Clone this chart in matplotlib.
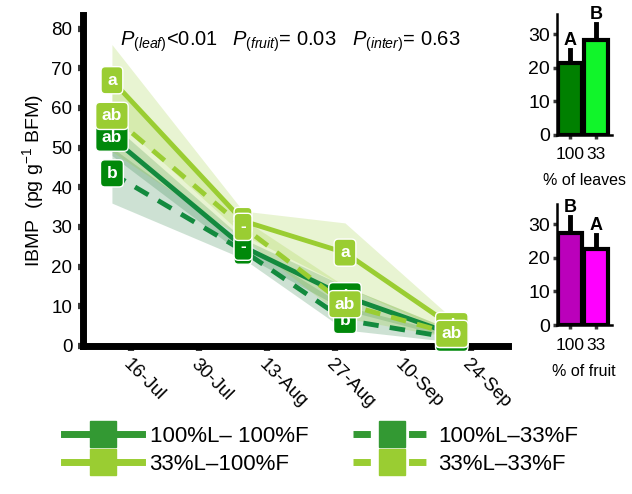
import datetime as dt
import matplotlib
matplotlib.use("Agg")
import matplotlib.pyplot as plt
import matplotlib.dates as mdates
from matplotlib.lines import Line2D

plt.rcParams['font.family'] = ['Liberation Sans', 'DejaVu Sans']
plt.rcParams['mathtext.fontset'] = 'custom'
plt.rcParams['mathtext.rm'] = 'Liberation Sans'
plt.rcParams['mathtext.it'] = 'Liberation Sans:italic'

# sampling dates and tick dates
dates = [dt.date(2019, 7, 12), dt.date(2019, 8, 8), dt.date(2019, 8, 29), dt.date(2019, 9, 20)]
tick_dates = [dt.date(2019, 7, 16), dt.date(2019, 7, 30), dt.date(2019, 8, 13),
              dt.date(2019, 8, 27), dt.date(2019, 9, 10), dt.date(2019, 9, 24)]
tick_labels = ['16-Jul', '30-Jul', '13-Aug', '27-Aug', '10-Sep', '24-Sep']

# IBMP means and band limits per treatment
l100_f100 = [52.5, 25, 12.5, 3]
l100_f100_hi = [56, 27, 15, 4]
l100_f100_lo = [48, 23, 9, 2]
l100_f33 = [43.5, 24, 6.5, 2]
l100_f33_hi = [50, 26, 10, 3]
l100_f33_lo = [36, 22, 4, 1]
l33_f100 = [67, 31.5, 23.5, 5]
l33_f100_hi = [76, 34, 31, 7]
l33_f100_lo = [58, 28, 15, 3]
l33_f33 = [58, 30, 10.5, 3]
l33_f33_hi = [66, 32, 15, 4]
l33_f33_lo = [49, 27, 7, 2]

# significance letters
let_100_100 = ['ab', '-', 'ab', 'ab']
let_100_33 = ['b', '-', 'b', 'ab']
let_33_100 = ['a', '-', 'a', 'ab']
let_33_33 = ['ab', '-', 'ab', 'ab']

# p values
p_names = ['leaf', 'fruit', 'inter']
p_texts = ['<0.01', '= 0.03', '= 0.63']

# inset bars
leaf_groups = ['100', '33']
leaf_vals = [21.5, 28.2]
leaf_err = [3.8, 4.7]
leaf_letters = ['A', 'B']
fruit_groups = ['100', '33']
fruit_vals = [27.3, 22.5]
fruit_err = [4.7, 4.2]
fruit_letters = ['B', 'A']

dark = '#138a3e'
dark_box = '#00880a'
dark_leg = '#339933'
light = '#9acd32'

fig = plt.figure(figsize=(6.32, 4.94), dpi=100)
ax = fig.add_axes([0.131, 0.300, 0.673, 0.670])

x = mdates.date2num(dates)

series = [
    (l100_f33, l100_f33_lo, l100_f33_hi, dark, dark_box, '--', let_100_33, '#1e7a3a'),
    (l100_f100, l100_f100_lo, l100_f100_hi, dark, dark_box, '-', let_100_100, '#1e7a3a'),
    (l33_f100, l33_f100_lo, l33_f100_hi, light, light, '-', let_33_100, light),
    (l33_f33, l33_f33_lo, l33_f33_hi, light, light, '--', let_33_33, light),
]

for vals, lo, hi, col, bcol, ls, lets, bandcol in series:
    ax.fill_between(x, lo, hi, color=bandcol, alpha=0.22, lw=0, zorder=1)

for vals, lo, hi, col, bcol, ls, lets, bandcol in series:
    line, = ax.plot(x, vals, color=col, lw=3.5, ls=ls, zorder=2)
    if ls == '--':
        line.set_dashes((3.2, 2.3))

for vals, lo, hi, col, bcol, ls, lets, bandcol in series:
    for xi, v, t in zip(x, vals, lets):
        ax.text(xi, v, t, ha='center', va='center', color='white', fontsize=12.5,
                fontweight='bold', zorder=3, clip_on=False,
                bbox=dict(boxstyle='round,pad=0.35,rounding_size=0.25',
                          fc=bcol, ec='white', lw=1))

ax.set_xlim(mdates.date2num(dt.date(2019, 7, 6)), mdates.date2num(dt.date(2019, 10, 1)) + 0.6)
ax.set_ylim(0, 83.5)
ax.set_yticks(range(0, 81, 10))
ax.set_xticks(mdates.date2num(tick_dates))
ax.set_xticklabels(tick_labels, rotation=-45, ha='left', va='top', rotation_mode='anchor')
for s in ['top', 'right']:
    ax.spines[s].set_visible(False)
for s in ['left', 'bottom']:
    ax.spines[s].set_linewidth(5)
ax.tick_params(direction='out', length=3.5, width=4.5, color='#3a3a3a',
               labelsize=13.5, pad=4)
ax.tick_params(axis='x', pad=4)
ax.set_ylabel('IBMP  (pg g$^{-1}$ BFM)', fontsize=14, labelpad=4)

for px, name, txt in zip([120, 232, 352], p_names, p_texts):
    fig.text(px / 632, 1 - 42 / 494, '$P_{(' + name + ')}$' + txt,
             fontsize=14.5, ha='left', va='center')


def inset(rect, groups, vals, err, letters, colors, label):
    a = fig.add_axes(rect)
    pos = list(range(len(groups)))
    a.bar(pos, vals, width=0.92, color=colors, edgecolor='black', linewidth=3, zorder=2)
    for p, v, e, t in zip(pos, vals, err, letters):
        a.plot([p, p], [v, v + e], color='black', lw=3.5, zorder=1)
        a.text(p, v + e + 0.3, t, ha='center', va='bottom', fontsize=13, fontweight='bold')
    a.set_xlim(-0.5, 1.6)
    a.set_ylim(0, 36)
    a.set_yticks([0, 10, 20, 30])
    a.set_xticks(pos)
    a.set_xticklabels(groups, fontsize=12.5)
    for s in ['top', 'right']:
        a.spines[s].set_visible(False)
    for s in ['left', 'bottom']:
        a.spines[s].set_linewidth(1.8)
    a.tick_params(axis='y', direction='out', length=3, width=2.5, color='#3a3a3a',
                  labelsize=14, pad=2)
    a.tick_params(axis='x', direction='out', length=3, width=2.5, color='#3a3a3a', pad=6)
    a.set_xlabel(label, fontsize=11.5, labelpad=8)
    return a


inset([0.881, 0.727, 0.087, 0.245], leaf_groups, leaf_vals, leaf_err, leaf_letters,
      ['#008000', '#11f52a'], '% of leaves')
inset([0.881, 0.342, 0.087, 0.245], fruit_groups, fruit_vals, fruit_err, fruit_letters,
      ['#bb00bb', '#ff00ff'], '% of fruit')

handles = [
    Line2D([], [], color=dark_leg, lw=5, ls='-', marker='s', markersize=19),
    Line2D([], [], color=light, lw=5, ls='-', marker='s', markersize=19),
    Line2D([], [], color=dark_leg, lw=5, ls='--', dashes=(2.5, 1.5), marker='s', markersize=19),
    Line2D([], [], color=light, lw=5, ls='--', dashes=(2.5, 1.5), marker='s', markersize=19),
]
labels = ['100%L\u2013 100%F', '33%L\u2013100%F', '100%L\u201333%F', '33%L\u201333%F']
fig.legend(handles, labels, ncol=2, loc='upper left', bbox_to_anchor=(64 / 632, 1 - 426 / 494),
           frameon=False, fontsize=16, handlelength=3.5, columnspacing=2.0,
           labelspacing=0.32, handletextpad=0.35, borderpad=0, borderaxespad=0)

fig.savefig('out.png', dpi=100)
